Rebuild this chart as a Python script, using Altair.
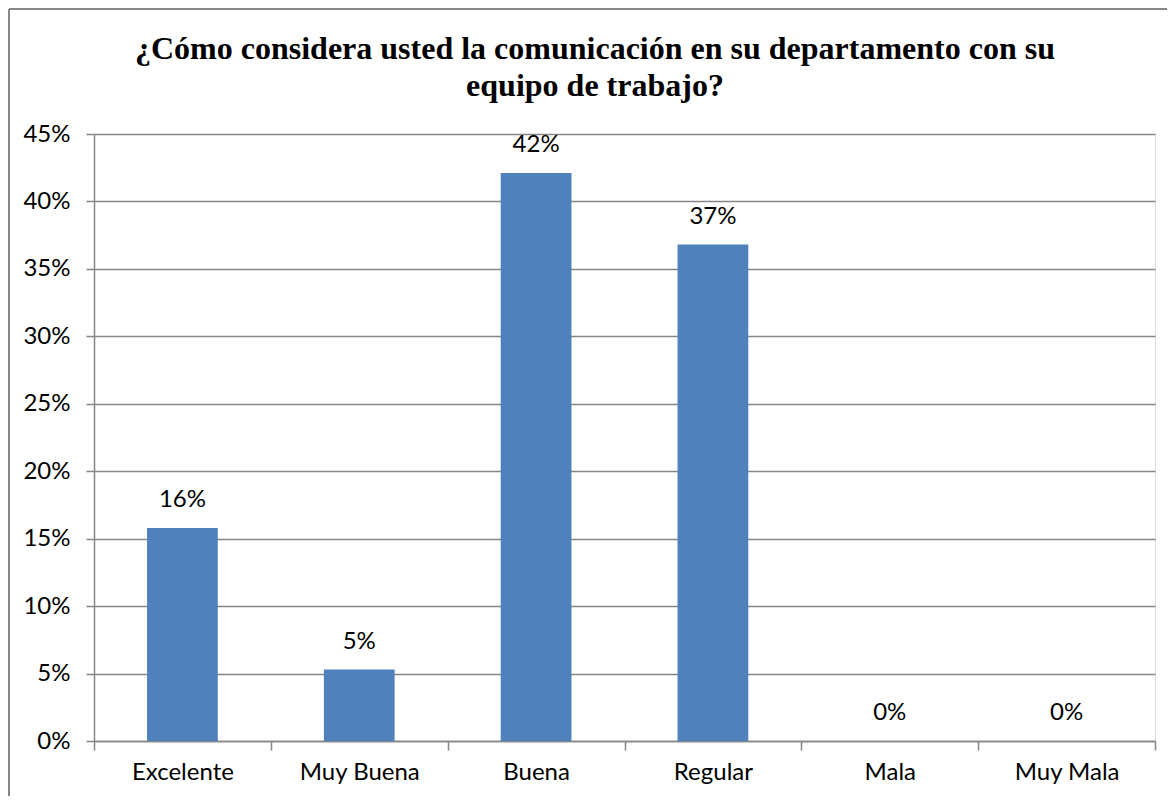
import altair as alt
import pandas as pd

categories = ["Excelente", "Muy Buena", "Buena", "Regular", "Mala", "Muy Mala"]
values = [0.158, 0.053, 0.421, 0.368, 0.0, 0.0]
title_lines = ["¿Cómo considera usted la comunicación en su departamento con su",
               "equipo de trabajo?"]

df = pd.DataFrame({"cat": categories, "val": values})
one = pd.DataFrame({"a": [0]})

W, H = 1061, 607
GRID = "#868686"
FONT = "Lato"
FS = 24

x = alt.X("cat:N", sort=categories, title=None,
          scale=alt.Scale(paddingInner=0, paddingOuter=0),
          axis=alt.Axis(labelAngle=0, labelFont=FONT, labelFontSize=FS, labelColor="#000000",
                        labelPadding=10, tickBand="extent", tickSize=9, tickColor=GRID,
                        tickWidth=1.5, domainColor=GRID, domainWidth=1.5, grid=False))
y = alt.Y("val:Q", title=None,
          scale=alt.Scale(domain=[0, 0.45], nice=False),
          axis=alt.Axis(format=".0%", values=[i * 0.05 for i in range(10)],
                        labelFont=FONT, labelFontSize=FS, labelColor="#000000",
                        labelPadding=16, tickSize=8, tickColor=GRID, tickWidth=1.5,
                        domainColor=GRID, domainWidth=1.5,
                        grid=True, gridColor=GRID, gridWidth=1.5))

bars = alt.Chart(df).mark_bar(color="#4F81BD", width=alt.RelativeBandSize(0.4)).encode(x=x, y=y)
labels = alt.Chart(df).mark_text(dy=-16, baseline="bottom", font=FONT, fontSize=FS,
                                 color="#000000").encode(
    x=alt.X("cat:N", sort=categories), y="val:Q", text=alt.Text("val:Q", format=".0%"))

frame_top = alt.Chart(one).mark_rule(stroke=GRID, strokeWidth=2, clip=False).encode(
    x=alt.value(-85), x2=alt.value(W + 200), y=alt.value(-125))
frame_left = alt.Chart(one).mark_rule(stroke=GRID, strokeWidth=2, clip=False).encode(
    x=alt.value(-85), y=alt.value(-125), y2=alt.value(H + 200))

title = alt.Chart(one).mark_text(
    text=title_lines, font="Liberation Serif", fontSize=32, fontWeight="bold",
    color="#000000", lineHeight=37, align="center", baseline="middle").encode(
    x=alt.value(501), y=alt.value(-85))

chart = alt.layer(bars, labels, frame_top, frame_left, title).properties(
    width=W, height=H,
    autosize=alt.AutoSizeParams(type="none"),
    padding={"left": 86, "top": 126, "right": 12, "bottom": 55},
).configure_view(stroke=None).configure(background="white")

chart.save("out.html", embed_options={"renderer": "svg", "actions": False})
